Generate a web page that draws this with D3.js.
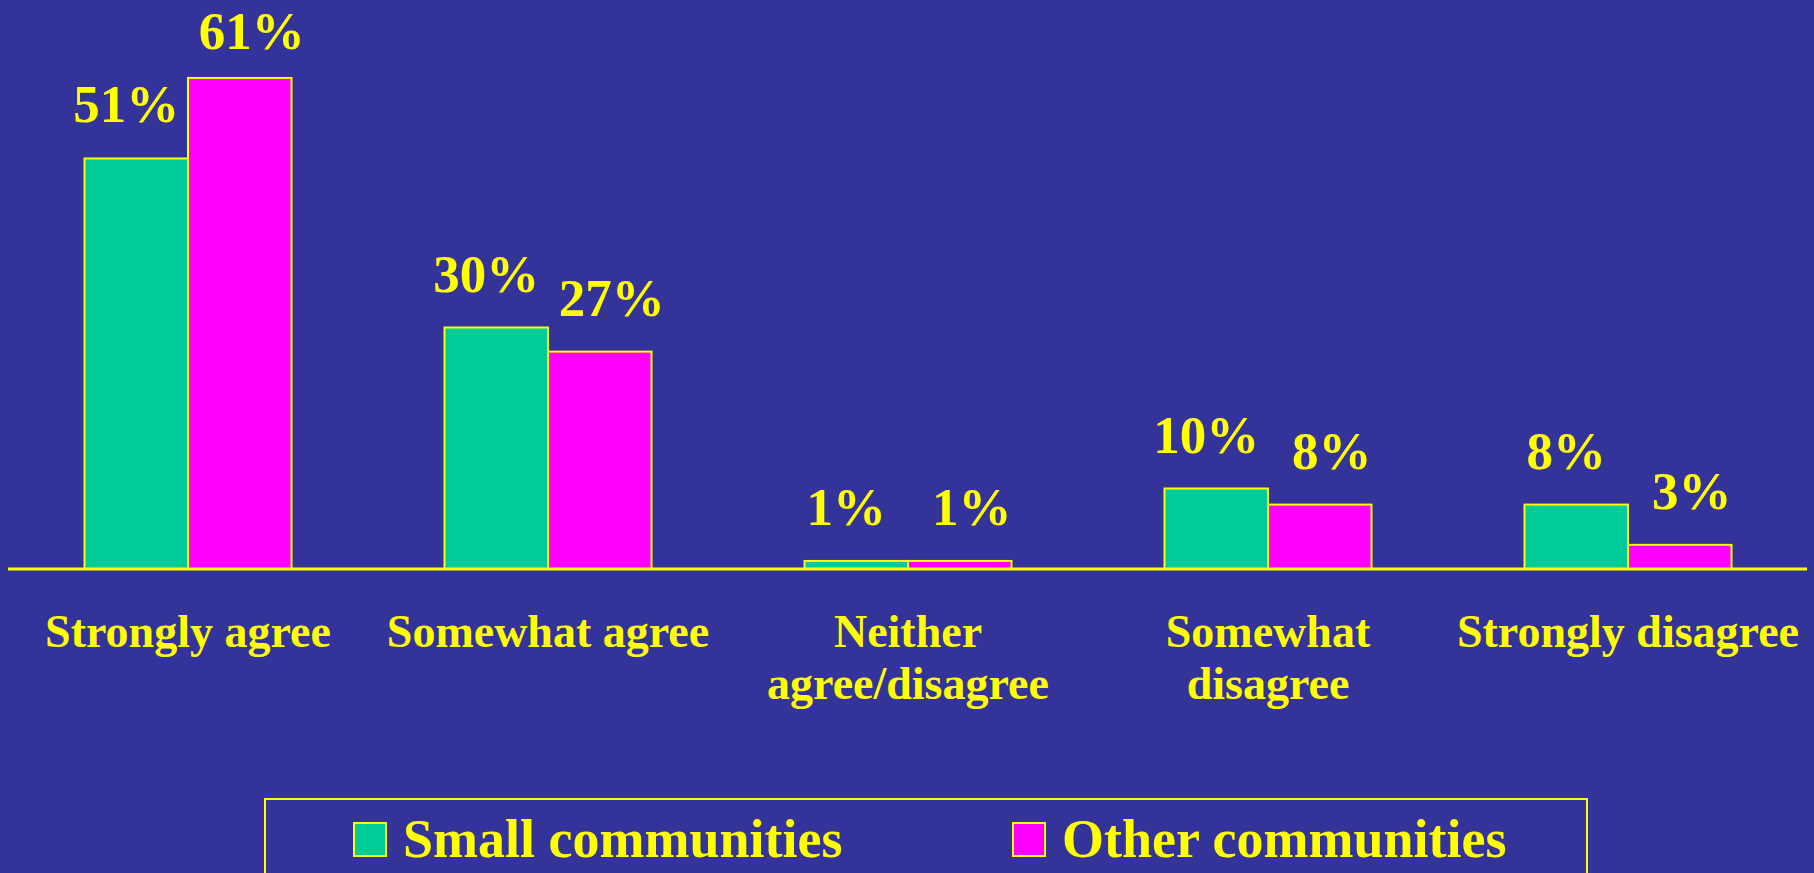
<!DOCTYPE html>
<html>
<head>
<meta charset="utf-8">
<script src="https://cdn.jsdelivr.net/npm/d3@7"></script>
<style>
  html, body { margin: 0; padding: 0; background: #333399; overflow: hidden; }
  svg { display: block; }
  text { font-family: "Liberation Serif", "Times New Roman", serif; font-weight: bold; fill: #FFFF00; }
</style>
</head>
<body>
<svg id="chart" width="1814" height="873"></svg>
<script>
const categories = [["Strongly agree"], ["Somewhat agree"], ["Neither", "agree/disagree"], ["Somewhat", "disagree"], ["Strongly disagree"]];
const seriesNames = ["Small communities", "Other communities"];
const smallValues = [51, 30, 1, 10, 8];
const otherValues = [61, 27, 1, 8, 3];
const seriesColors = ["#00CC99", "#FF00FF"];

const W = 1814, H = 873;
const svg = d3.select("#chart");
svg.append("rect").attr("width", W).attr("height", H).attr("fill", "#333399");

const baseY = 569;
const x0 = d3.scaleBand().domain(d3.range(categories.length)).range([8, 1808]).paddingInner(0.425).paddingOuter(0.2125);
const x1 = d3.scaleBand().domain(d3.range(seriesNames.length)).range([0, x0.bandwidth()]);
const y = d3.scaleLinear().domain([0, 100]).range([baseY, baseY - 805]);

const series = [smallValues, otherValues];
const labelDx = [-10, 12];

series.forEach((vals, si) => {
  const g = svg.append("g");
  g.selectAll("rect").data(vals).join("rect")
    .attr("x", (d, i) => x0(i) + x1(si))
    .attr("y", d => y(d))
    .attr("width", x1.bandwidth())
    .attr("height", d => y(0) - y(d))
    .attr("fill", seriesColors[si])
    .attr("stroke", "#FFFF00")
    .attr("stroke-width", 2);
  g.selectAll("text").data(vals).join("text")
    .attr("x", (d, i) => x0(i) + x1(si) + x1.bandwidth() / 2 + labelDx[si])
    .attr("y", d => Math.max(y(d) - 36, 49))
    .attr("text-anchor", "middle")
    .attr("font-size", 53)
    .text(d => d + "%");
});

// axis baseline
svg.append("line").attr("x1", 8).attr("x2", 1807).attr("y1", baseY).attr("y2", baseY)
  .attr("stroke", "#FFFF00").attr("stroke-width", 3);

// category labels
const catG = svg.append("g");
categories.forEach((lines, i) => {
  const t = catG.append("text")
    .attr("x", x0(i) + x0.bandwidth() / 2)
    .attr("y", 647)
    .attr("text-anchor", "middle")
    .attr("font-size", 46);
  lines.forEach((ln, li) => {
    t.append("tspan").attr("x", x0(i) + x0.bandwidth() / 2).attr("dy", li === 0 ? 0 : 52).text(ln);
  });
});

// legend
svg.append("rect").attr("x", 265).attr("y", 799).attr("width", 1322).attr("height", 100)
  .attr("fill", "none").attr("stroke", "#FFFF00").attr("stroke-width", 2);
const legX = [354, 1013];
seriesNames.forEach((name, si) => {
  svg.append("rect").attr("x", legX[si]).attr("y", 823).attr("width", 32).attr("height", 33)
    .attr("fill", seriesColors[si]).attr("stroke", "#FFFF00").attr("stroke-width", 2);
  svg.append("text")
    .attr("x", legX[si] + 49)
    .attr("y", 857)
    .attr("font-size", 54)
    .text(name);
});
</script>
</body>
</html>
